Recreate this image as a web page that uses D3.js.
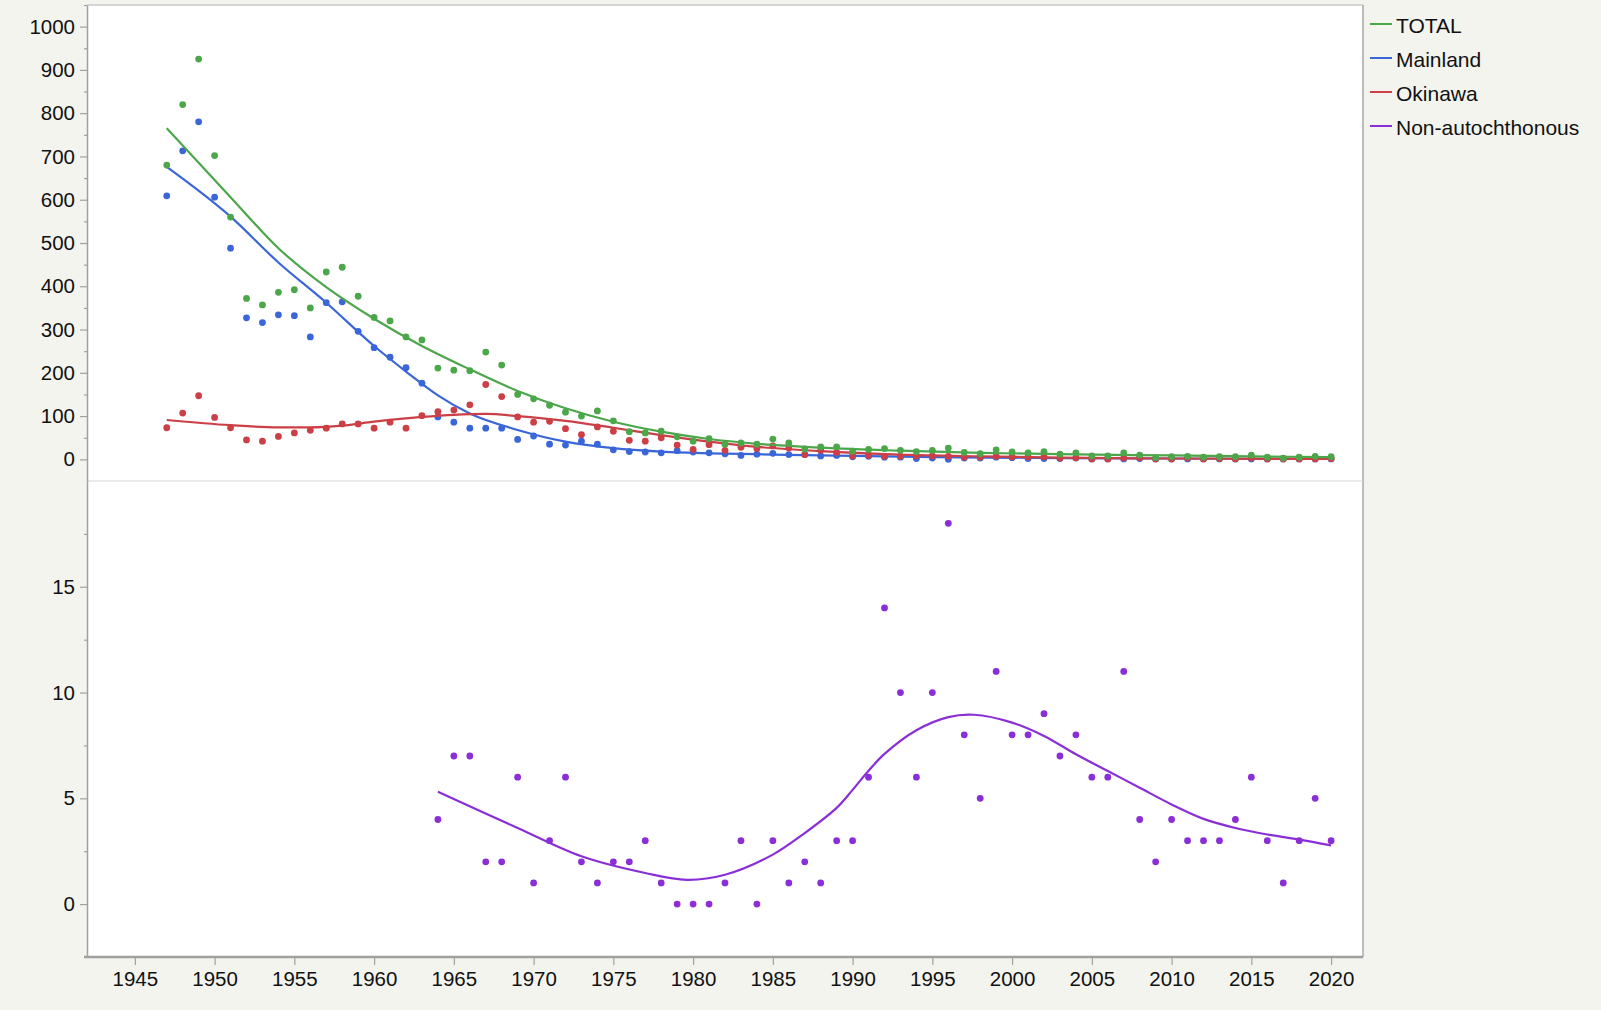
<!DOCTYPE html>
<html>
<head>
<meta charset="utf-8">
<script src="https://cdn.jsdelivr.net/npm/d3@7"></script>
<style>
  html, body { margin: 0; padding: 0; background: #f4f4ef; }
  svg { display: block; }
  text { font-family: "Liberation Sans", Arial, Helvetica, sans-serif; fill: #111; }
</style>
</head>
<body>
<svg id="chart" width="1601" height="1010"></svg>
<script>
// ---------------- DATA ----------------
const years = [
  1947,1948,1949,1950,1951,1952,1953,1954,1955,1956,
  1957,1958,1959,1960,1961,1962,1963,1964,1965,1966,
  1967,1968,1969,1970,1971,1972,1973,1974,1975,1976,
  1977,1978,1979,1980,1981,1982,1983,1984,1985,1986,
  1987,1988,1989,1990,1991,1992,1993,1994,1995,1996,
  1997,1998,1999,2000,2001,2002,2003,2004,2005,2006,
  2007,2008,2009,2010,2011,2012,2013,2014,2015,2016,
  2017,2018,2019,2020
];
const totalValues = [
  680,820,925,702,560,372,357,386,392,350,
  433,444,377,328,320,283,276,211,206,205,
  248,218,150,140,125,109,100,112,89,64,
  61,65,52,42,48,35,38,35,47,38,
  24,29,29,19,23,25,21,18,21,26,
  16,13,22,17,15,18,12,15,8,8,
  15,10,4,6,7,5,6,6,10,5,
  3,5,7,6
];
const mainlandValues = [
  609,713,780,606,488,327,316,334,332,283,
  362,364,296,258,236,212,176,98,86,72,
  72,72,46,54,35,33,42,35,22,18,
  17,15,20,17,15,13,9,12,14,11,
  11,8,9,6,7,5,5,2,3,0,
  3,3,5,4,2,2,2,3,1,1,
  1,2,1,1,1,1,1,1,1,1,
  1,1,1,1
];
const okinawaValues = [
  73,107,147,97,73,45,42,53,61,67,
  72,82,82,72,86,72,101,110,114,126,
  173,145,98,86,88,71,57,75,65,44,
  42,50,33,23,34,21,28,25,31,26,
  11,21,16,8,9,7,7,8,8,7,
  5,5,7,6,6,6,3,4,1,1,
  3,4,1,1,3,1,2,1,3,1,
  1,1,1,2
];
const nonAutoYears = [
  1964,1965,1966,1967,1968,1969,1970,1971,1972,1973,
  1974,1975,1976,1977,1978,1979,1980,1981,1982,1983,
  1984,1985,1986,1987,1988,1989,1990,1991,1992,1993,
  1994,1995,1996,1997,1998,1999,2000,2001,2002,2003,
  2004,2005,2006,2007,2008,2009,2010,2011,2012,2013,
  2014,2015,2016,2017,2018,2019,2020
];
const nonAutoValues = [
  4,7,7,2,2,6,1,3,6,2,
  1,2,2,3,1,0,0,0,1,3,
  0,3,1,2,1,3,3,6,14,10,
  6,10,18,8,5,11,8,8,9,7,
  8,6,6,11,4,2,4,3,3,3,
  4,6,3,1,3,5,3
];

// Smoother curves
const totalFitYears = [1947,1951,1954,1957,1960,1963,1966,1969,1972,1975,1978,1981,1984,1988,1993,1998,2003,2010,2015,2020];
const totalFitValues = [765,606,488,398,325,262,208,158,118,87,64,47,36,27,20,15,12,9,7,5];
const mainlandFitYears = [1947,1951,1954,1957,1960,1962,1964,1966,1969,1972,1975,1978,1981,1984,1988,1995,2003,2010,2020];
const mainlandFitValues = [676,561,455,362,262,203,148,106,68,41,26,18,14,12,9,5,3,2,1];
const okinawaFitYears = [1947,1951,1954,1956,1958,1960,1963,1965,1967,1969,1972,1975,1978,1981,1984,1988,1993,1998,2003,2010,2020];
const okinawaFitValues = [91,79,74,74,78,87,98,103,105,100,89,73,56,41,29,19,11,7,4,2,1];
const nonAutoFitYears = [1964,1969,1973,1977,1979.6,1982,1985,1987,1989,1990,1991,1992,1994,1996,1997.6,2000,2002,2004,2006,2008,2010,2012,2014,2016,2018,2020];
const nonAutoFitValues = [5.31,3.6,2.26,1.47,1.15,1.39,2.34,3.36,4.55,5.4,6.3,7.1,8.22,8.84,8.95,8.58,7.95,7.08,6.29,5.5,4.71,4.03,3.6,3.29,3.05,2.78];

const xTickValues = [1945,1950,1955,1960,1965,1970,1975,1980,1985,1990,1995,2000,2005,2010,2015,2020];
const topTickValues = [0,100,200,300,400,500,600,700,800,900,1000];
const topMinorTicks = [50,150,250,350,450,550,650,750,850,950,1050];
const bottomTickValues = [0,5,10,15];
const bottomMinorTicks = [2.5,7.5,12.5,17.5];

const legendLabels = ["TOTAL","Mainland","Okinawa","Non-autochthonous"];
const colors = { total:"#4ca64a", mainland:"#3a66d9", okinawa:"#cc3f47", nonAuto:"#8a2fd8" };
const legendColors = [colors.total, colors.mainland, colors.okinawa, colors.nonAuto];

// ---------------- LAYOUT ----------------
const svg = d3.select("#chart");
const L = 87, R = 1363, T = 5, MID = 481, B = 957;

const x = d3.scaleLinear().domain([1942, 2022]).range([L, R]);
const yTop = d3.scaleLinear().domain([-50, 1050]).range([MID, T]);
const yBot = d3.scaleLinear().domain([-2.5, 20]).range([B, MID]);

svg.append("rect").attr("x", L).attr("y", T).attr("width", R - L).attr("height", B - T).attr("fill", "#ffffff");

svg.append("line").attr("x1", L).attr("x2", R).attr("y1", T).attr("y2", T).attr("stroke", "#c8c8c8").attr("stroke-width", 1.5);
svg.append("line").attr("x1", R).attr("x2", R).attr("y1", T).attr("y2", B).attr("stroke", "#a8a8a8").attr("stroke-width", 1.5);
svg.append("line").attr("x1", L).attr("x2", R).attr("y1", MID).attr("y2", MID).attr("stroke", "#d6d6d6").attr("stroke-width", 1.2);

function styleAxis(g) {
  g.selectAll(".domain").attr("stroke", "#a0a0a0").attr("stroke-width", 1.5);
  g.selectAll(".tick line").attr("stroke", "#a0a0a0").attr("stroke-width", 1.2);
  g.selectAll(".tick text").attr("font-size", 20.5).attr("fill", "#111")
    .attr("font-family", '"Liberation Sans", Arial, Helvetica, sans-serif');
}

const fmt = d3.format("d");
const gTop = svg.append("g").attr("transform", `translate(${L},0)`)
  .call(d3.axisLeft(yTop).tickValues(topTickValues).tickFormat(fmt).tickSize(7).tickPadding(5).tickSizeOuter(0));
styleAxis(gTop);
const gTopMinor = svg.append("g").attr("transform", `translate(${L},0)`)
  .call(d3.axisLeft(yTop).tickValues(topMinorTicks).tickSize(3).tickFormat("").tickSizeOuter(0));
styleAxis(gTopMinor);
gTopMinor.select(".domain").remove();

const gBot = svg.append("g").attr("transform", `translate(${L},0)`)
  .call(d3.axisLeft(yBot).tickValues(bottomTickValues).tickFormat(fmt).tickSize(7).tickPadding(5).tickSizeOuter(0));
styleAxis(gBot);
const gBotMinor = svg.append("g").attr("transform", `translate(${L},0)`)
  .call(d3.axisLeft(yBot).tickValues(bottomMinorTicks).tickSize(3).tickFormat("").tickSizeOuter(0));
styleAxis(gBotMinor);
gBotMinor.select(".domain").remove();

const gX = svg.append("g").attr("transform", `translate(0,${B})`)
  .call(d3.axisBottom(x).tickValues(xTickValues).tickFormat(fmt).tickSize(8).tickPadding(6).tickSizeOuter(0));
styleAxis(gX);
gX.select(".domain").attr("stroke-width", 2.5).attr("d", `M${L-3},0H${R}`);

// ---------------- MARKS ----------------
const plot = svg.append("g");

function drawSeries(xs, vals, fx, fv, yScale, color, curve) {
  const pts = xs.map((yr, i) => ({ yr, v: vals[i] }));
  plot.append("g").selectAll("circle").data(pts).join("circle")
    .attr("cx", d => x(d.yr)).attr("cy", d => yScale(d.v))
    .attr("r", 3.4).attr("fill", color);
  const fit = fx.map((yr, i) => ({ yr, v: fv[i] }));
  plot.append("path").datum(fit)
    .attr("d", d3.line().x(d => x(d.yr)).y(d => yScale(d.v)).curve(curve))
    .attr("fill", "none").attr("stroke", color).attr("stroke-width", 2.2);
}

drawSeries(years, mainlandValues, mainlandFitYears, mainlandFitValues, yTop, colors.mainland, d3.curveMonotoneX);
drawSeries(years, okinawaValues, okinawaFitYears, okinawaFitValues, yTop, colors.okinawa, d3.curveMonotoneX);
drawSeries(years, totalValues, totalFitYears, totalFitValues, yTop, colors.total, d3.curveMonotoneX);
drawSeries(nonAutoYears, nonAutoValues, nonAutoFitYears, nonAutoFitValues, yBot, colors.nonAuto, d3.curveCatmullRom.alpha(0.5));

// ---------------- LEGEND ----------------
const legend = svg.append("g");
legendLabels.forEach((lab, i) => {
  const cy = 25 + i * 34;
  legend.append("line").attr("x1", 1370).attr("x2", 1392).attr("y1", cy - 1).attr("y2", cy - 1)
    .attr("stroke", legendColors[i]).attr("stroke-width", 2);
  legend.append("text").attr("x", 1396).attr("y", cy).attr("dy", "0.36em")
    .attr("font-size", 21).text(lab);
});
</script>
</body>
</html>
